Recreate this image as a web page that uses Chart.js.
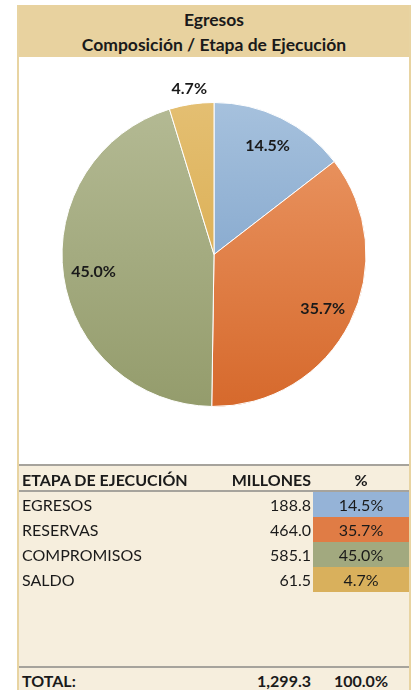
<!DOCTYPE html>
<html lang="es">
<head>
<meta charset="UTF-8">
<title>Egresos - Composición / Etapa de Ejecución</title>
<script src="https://cdn.jsdelivr.net/npm/chart.js"></script>
<style>
    body {
        margin: 0;
        background: #fff;
        font-family: Lato, "Open Sans", sans-serif;
        color: #1a1a1a;
    }
    .box {
        position: absolute;
        left: 17px;
        top: 5px;
        width: 390px;
        height: 700px;
        border-left: 2px solid #e8d4a2;
        border-right: 2px solid #e8d4a2;
        background: #f6eedd;
    }
    .title {
        height: 52px;
        background: #e8d29f;
        text-align: center;
        font-weight: bold;
        font-size: 17.5px;
        line-height: 25px;
        padding-top: 2px;
        box-sizing: border-box;
    }
    .chart-wrap {
        position: relative;
        height: 408px;
        background: #fff;
    }
    canvas { display: block; }
    .hline {
        position: absolute;
        left: 0;
        width: 390px;
        height: 2px;
        background: #a6a39c;
    }
    .cell {
        position: absolute;
        font-size: 16px;
        height: 25px;
        line-height: 25px;
        white-space: nowrap;
    }
    .bold { font-weight: bold; }
</style>
</head>
<body>
<div class="box" id="box">
    <div class="title">Egresos<br>Composición / Etapa de Ejecución</div>
    <div class="chart-wrap"><canvas id="pie" width="390" height="408"></canvas></div>
</div>

<script>
    // Datos
    const etapas = ['EGRESOS', 'RESERVAS', 'COMPROMISOS', 'SALDO'];
    const millones = [188.8, 464.0, 585.1, 61.5];
    const porcentajes = [14.5, 35.7, 45.0, 4.7];
    const totalMillones = '1,299.3';
    const totalPct = '100.0%';

    // colores claro/oscuro por etapa (degradado vertical)
    const coloresArriba = ['#a6c1dd', '#ec9a68', '#b4ba94', '#e4bf72'];
    const coloresAbajo = ['#6f97c3', '#d6692c', '#949c6c', '#d5a33f'];
    const coloresTabla = ['#95b3d7', '#e07c45', '#a2a97f', '#d9b05c'];

    function gradiente(context) {
        const i = context.dataIndex;
        const area = context.chart.chartArea;
        if (!area) return coloresTabla[i];
        const g = context.chart.ctx.createLinearGradient(0, area.top, 0, area.bottom);
        g.addColorStop(0, coloresArriba[i]);
        g.addColorStop(1, coloresAbajo[i]);
        return g;
    }

    // etiquetas de porcentaje sobre las porciones
    const etiquetas = {
        id: 'etiquetas',
        afterDatasetsDraw(chart) {
            const ctx = chart.ctx;
            const meta = chart.getDatasetMeta(0);
            ctx.save();
            ctx.font = 'bold 16px Lato, sans-serif';
            ctx.fillStyle = '#1a1a1a';
            ctx.textAlign = 'center';
            ctx.textBaseline = 'middle';
            meta.data.forEach((arc, i) => {
                const p = arc.getProps(['x', 'y', 'startAngle', 'endAngle', 'outerRadius'], true);
                const mid = (p.startAngle + p.endAngle) / 2;
                const r = porcentajes[i] < 10 ? p.outerRadius + 15 : p.outerRadius * 0.8;
                ctx.fillText(porcentajes[i].toFixed(1) + '%', p.x + Math.cos(mid) * r, p.y + Math.sin(mid) * r);
            });
            ctx.restore();
        }
    };

    new Chart(document.getElementById('pie'), {
        type: 'pie',
        data: {
            labels: etapas,
            datasets: [{
                data: millones,
                backgroundColor: gradiente,
                borderColor: '#ffffff',
                borderWidth: 1
            }]
        },
        options: {
            responsive: false,
            animation: false,
            events: [],
            layout: { padding: { top: 45, bottom: 58, left: 0, right: 0 } },
            plugins: {
                legend: { display: false },
                tooltip: { enabled: false }
            }
        },
        plugins: [etiquetas]
    });

    // tabla
    const box = document.getElementById('box');

    function celda(texto, left, top, width, align, extra) {
        const d = document.createElement('div');
        d.className = 'cell' + (extra || '');
        d.textContent = texto;
        d.style.left = left + 'px';
        d.style.top = top + 'px';
        d.style.width = width + 'px';
        d.style.textAlign = align;
        box.appendChild(d);
        return d;
    }
    function linea(top) {
        const d = document.createElement('div');
        d.className = 'hline';
        d.style.top = top + 'px';
        box.appendChild(d);
    }

    linea(459);
    celda('ETAPA DE EJECUCIÓN', 3, 462, 200, 'left', ' bold');
    celda('MILLONES', 180, 462, 112, 'right', ' bold');
    celda('%', 294, 462, 96, 'center', ' bold');
    linea(485);
    etapas.forEach((e, i) => {
        const top = 487 + i * 25;
        celda(e, 3, top, 200, 'left');
        celda(millones[i].toFixed(1), 180, top, 112, 'right');
        const c = celda(porcentajes[i].toFixed(1) + '%', 294, top, 96, 'center');
        c.style.background = coloresTabla[i];
    });
    linea(661);
    celda('TOTAL:', 3, 663, 200, 'left', ' bold');
    celda(totalMillones, 180, 663, 112, 'right', ' bold');
    celda(totalPct, 294, 663, 96, 'center', ' bold');
</script>
</body>
</html>
